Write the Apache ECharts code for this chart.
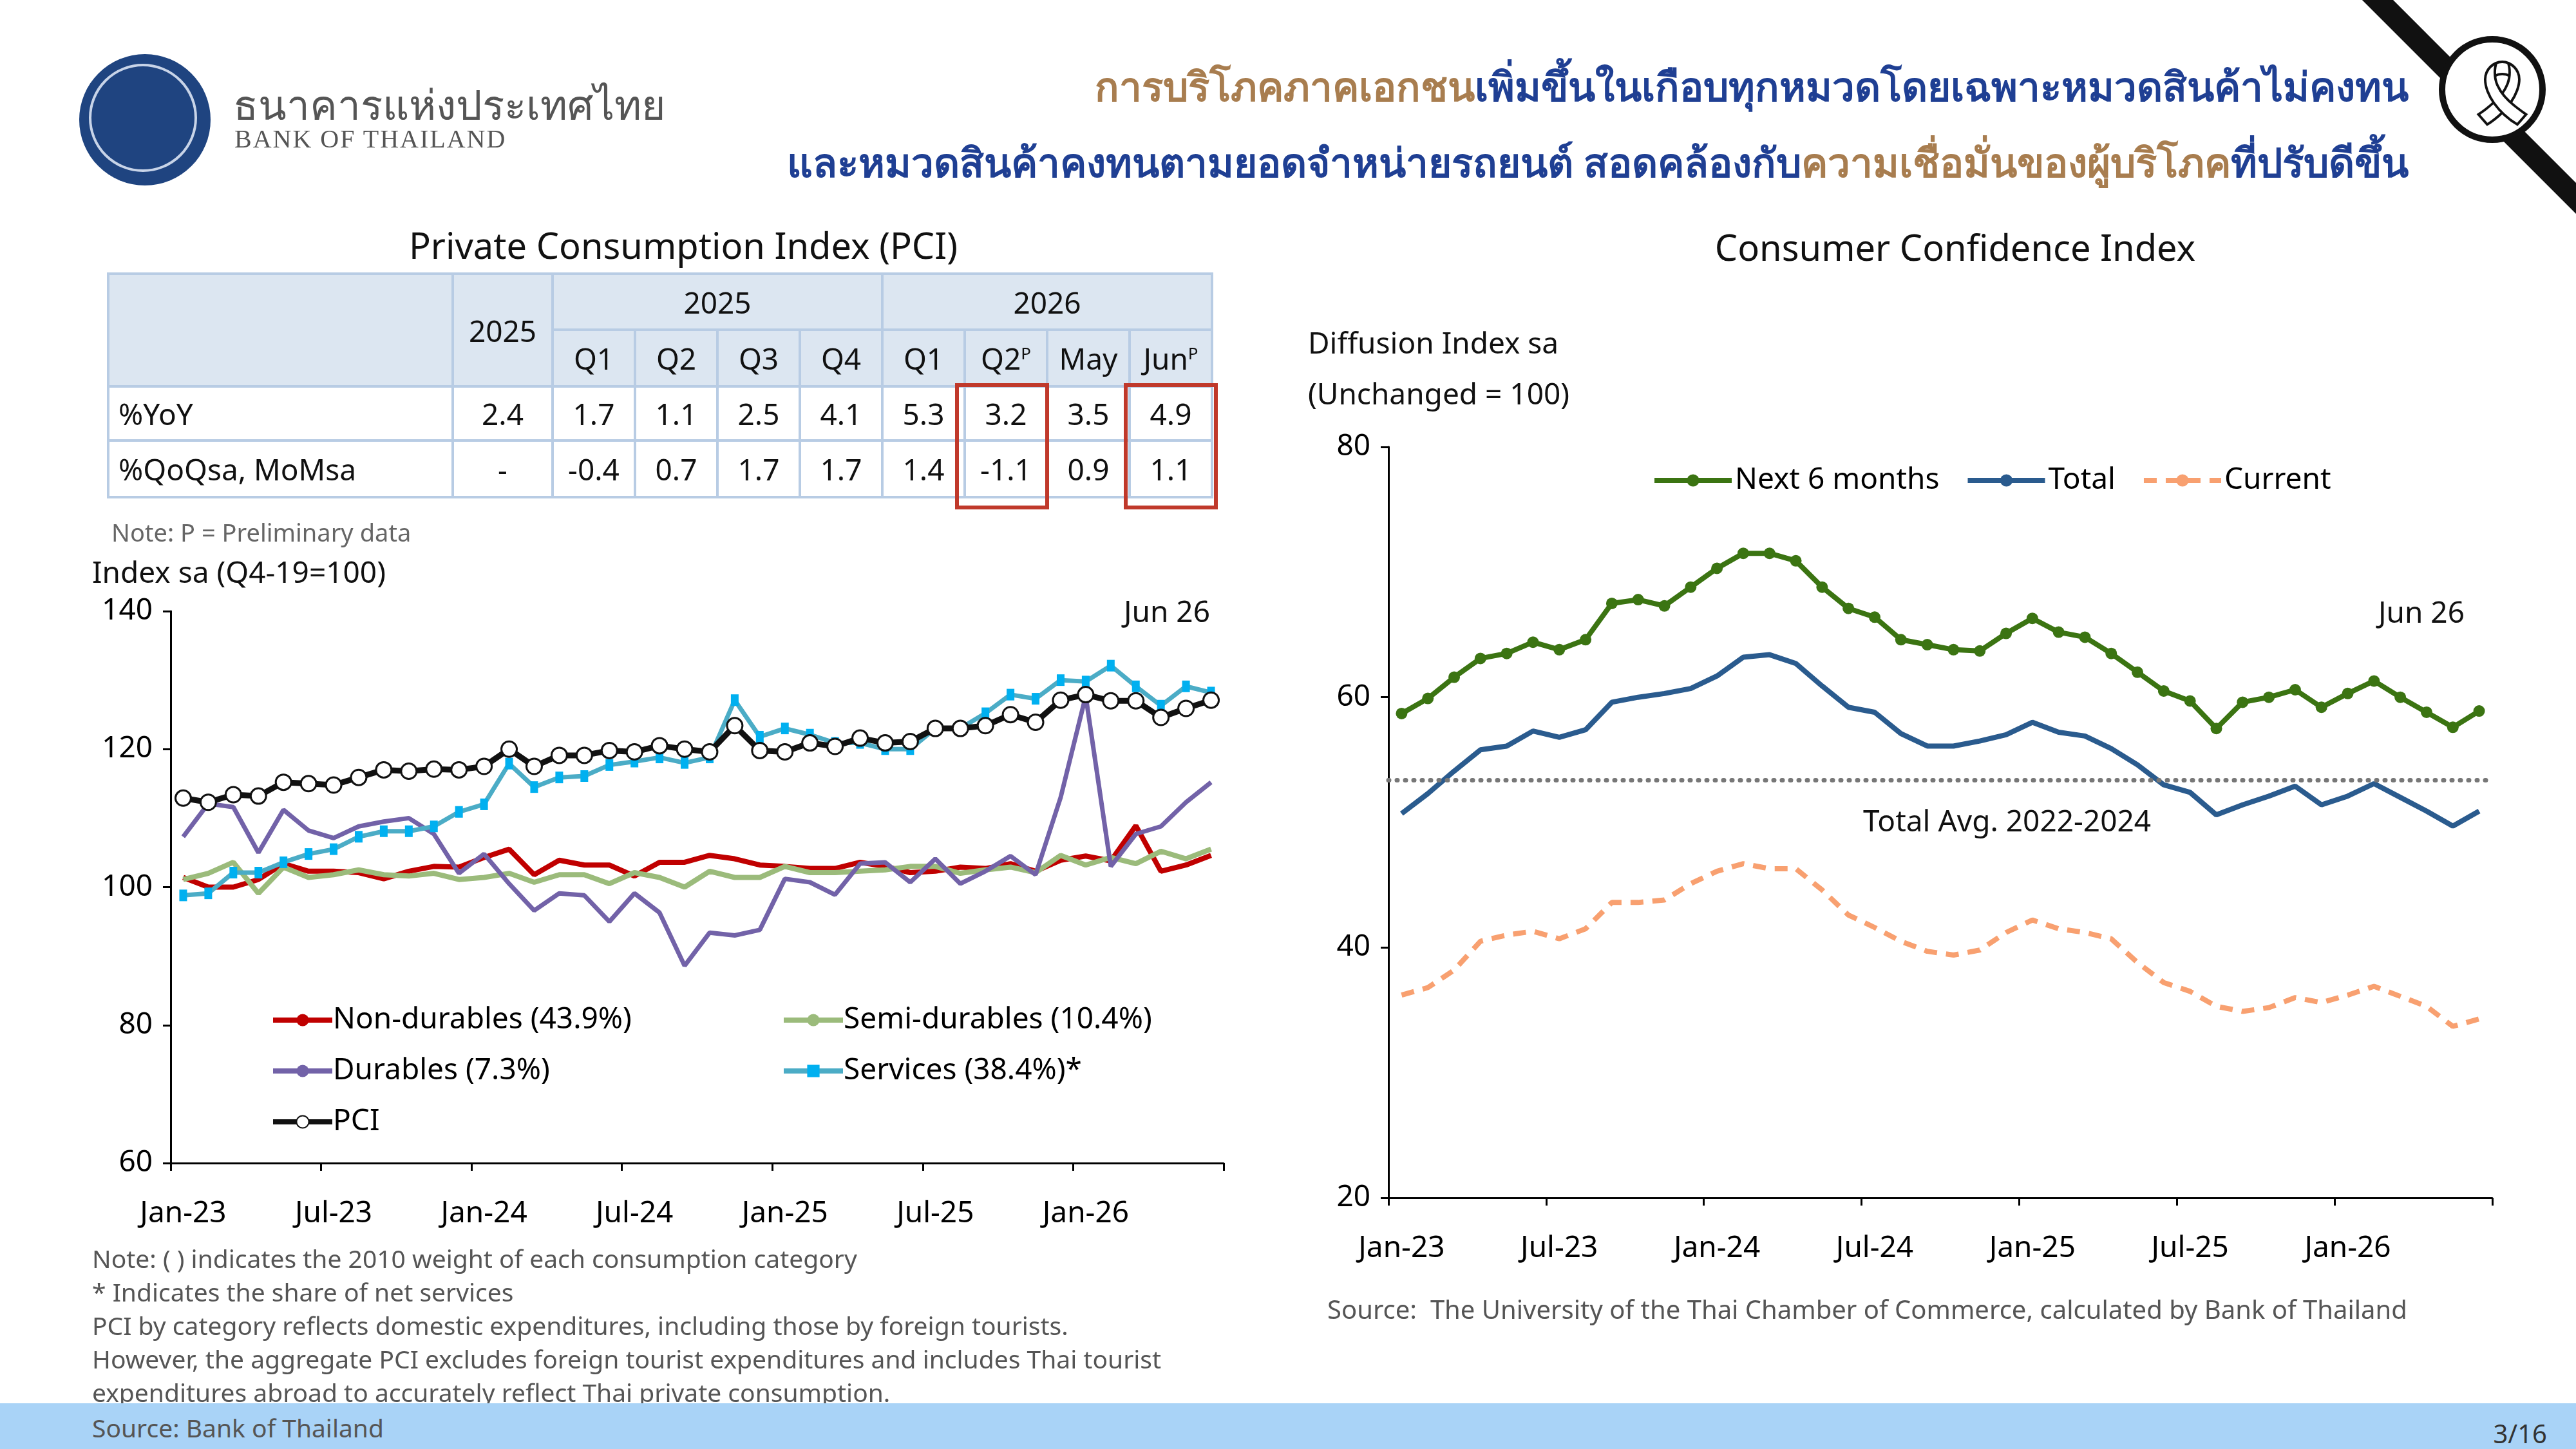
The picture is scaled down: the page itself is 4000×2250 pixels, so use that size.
<!DOCTYPE html>
<html>
<head>
<meta charset="utf-8">
<script src="https://cdn.jsdelivr.net/npm/echarts@6/dist/echarts.min.js"></script>
<style>
  body { margin: 0; width: 4000px; height: 2250px; background: #fff; position: relative; overflow: hidden;
         font-family: "Noto Sans", "DejaVu Sans", sans-serif; color: #111; }
  #chart { position: absolute; left: 0; top: 0; width: 4000px; height: 2250px; }
  .abs { position: absolute; white-space: nowrap; }
  table.pci { position: absolute; left: 166px; top: 423px; border-collapse: collapse; font-size: 46px; }
  table.pci td { border: 4px solid #b8cce4; text-align: center; padding: 0; }
  table.pci tr.h td { background: #dce6f1; }
  .red { position: absolute; border: 6px solid #c0392b; }
  .gold { color: #a87d4f; }
  .navy { color: #1f3f93; }
</style>
</head>
<body>
<div id="chart"></div>

<!-- header -->
<div class="abs" style="left:123px;top:84px;width:204px;height:204px;border-radius:50%;background:#1f4480;"></div>
<div class="abs" style="left:138px;top:99px;width:168px;height:168px;border-radius:50%;border:4px solid #c8d4e8;box-sizing:border-box;"></div>
<div class="abs" style="left:362px;top:112px;font-size:64px;color:#555;">ธนาคารแห่งประเทศไทย</div>
<div class="abs" style="left:364px;top:192px;font-size:40px;color:#555;font-family:'Liberation Serif',serif;letter-spacing:2px;">BANK OF THAILAND</div>
<div class="abs" style="right:260px;top:86px;font-size:62px;font-weight:bold;"><span class="gold">การบริโภคภาคเอกชน</span><span class="navy">เพิ่มขึ้นในเกือบทุกหมวดโดยเฉพาะหมวดสินค้าไม่คงทน</span></div>
<div class="abs" style="right:260px;top:204px;font-size:62px;font-weight:bold;"><span class="navy">และหมวดสินค้าคงทนตามยอดจำหน่ายรถยนต์ สอดคล้องกับ</span><span class="gold">ความเชื่อมั่นของผู้บริโภค</span><span class="navy">ที่ปรับดีขึ้น</span></div>
<div class="abs" style="left:3835px;top:-120px;width:34px;height:560px;background:#111;transform:rotate(-45deg);transform-origin:center;"></div>
<div class="abs" style="left:3787px;top:56px;width:166px;height:166px;border-radius:50%;background:#fff;border:10px solid #111;box-sizing:border-box;"></div>
<div class="abs" style="left:3822px;top:72px;font-size:100px;color:#111;">🎗</div>

<!-- left panel -->
<div class="abs" style="left:0;width:2122px;top:342px;text-align:center;font-size:56px;">Private Consumption Index (PCI)</div>
<table class="pci">
  <tr class="h" style="height:87px;"><td rowspan="2" style="width:531px;"></td><td rowspan="2" style="width:151px;">2025</td><td colspan="4">2025</td><td colspan="4">2026</td></tr>
  <tr class="h" style="height:88px;"><td style="width:124px;">Q1</td><td style="width:124px;">Q2</td><td style="width:124px;">Q3</td><td style="width:124px;">Q4</td><td style="width:124px;">Q1</td><td style="width:124px;">Q2<sup style="font-size:26px;">P</sup></td><td style="width:124px;">May</td><td style="width:124px;">Jun<sup style="font-size:26px;">P</sup></td></tr>
  <tr style="height:84px;"><td style="text-align:left;padding-left:14px;">%YoY</td><td>2.4</td><td>1.7</td><td>1.1</td><td>2.5</td><td>4.1</td><td>5.3</td><td>3.2</td><td>3.5</td><td>4.9</td></tr>
  <tr style="height:88px;"><td style="text-align:left;padding-left:14px;">%QoQsa, MoMsa</td><td>-</td><td>-0.4</td><td>0.7</td><td>1.7</td><td>1.7</td><td>1.4</td><td>-1.1</td><td>0.9</td><td>1.1</td></tr>
</table>
<div class="red" style="left:1483px;top:595px;width:134px;height:184px;"></div>
<div class="red" style="left:1745px;top:595px;width:134px;height:184px;"></div>
<div class="abs" style="left:173px;top:800px;font-size:38px;color:#666;">Note: P = Preliminary data</div>
<div class="abs" style="left:143px;top:856px;font-size:46px;">Index sa (Q4-19=100)</div>
<div class="abs" style="left:1745px;top:917px;font-size:46px;">Jun 26</div>
<div class="abs" style="left:143px;top:1928px;font-size:39px;color:#555;line-height:52px;">
Note: ( ) indicates the 2010 weight of each consumption category<br>
* Indicates the share of net services<br>
PCI by category reflects domestic expenditures, including those by foreign tourists.<br>
However, the aggregate PCI excludes foreign tourist expenditures and includes Thai tourist<br>
expenditures abroad to accurately reflect Thai private consumption.
</div>

<!-- right panel -->
<div class="abs" style="left:2100px;width:1872px;top:345px;text-align:center;font-size:56px;">Consumer Confidence Index</div>
<div class="abs" style="left:2031px;top:500px;font-size:46px;">Diffusion Index sa</div>
<div class="abs" style="left:2031px;top:579px;font-size:46px;">(Unchanged = 100)</div>
<div class="abs" style="left:3693px;top:918px;font-size:46px;">Jun 26</div>
<div class="abs" style="left:2893px;top:1242px;font-size:46px;">Total Avg. 2022-2024</div>
<div class="abs" style="left:2061px;top:2005px;font-size:40px;color:#555;">Source:&nbsp; The University of the Thai Chamber of Commerce, calculated by Bank of Thailand</div>

<!-- footer -->
<div class="abs" style="left:0;top:2179px;width:4000px;height:71px;background:#a9d3f7;"></div>
<div class="abs" style="left:143px;top:2190px;font-size:39px;color:#555;">Source: Bank of Thailand</div>
<div class="abs" style="right:45px;top:2198px;font-size:40px;color:#333;">3/16</div>

<script>
var months = ['Jan-23','Feb-23','Mar-23','Apr-23','May-23','Jun-23','Jul-23','Aug-23','Sep-23','Oct-23','Nov-23','Dec-23',
  'Jan-24','Feb-24','Mar-24','Apr-24','May-24','Jun-24','Jul-24','Aug-24','Sep-24','Oct-24','Nov-24','Dec-24',
  'Jan-25','Feb-25','Mar-25','Apr-25','May-25','Jun-25','Jul-25','Aug-25','Sep-25','Oct-25','Nov-25','Dec-25',
  'Jan-26','Feb-26','Mar-26','Apr-26','May-26','Jun-26'];

var nonDurables = [101.4,100,100,101.1,103.4,102.3,102.3,102.1,101.2,102.3,103,102.9,104.3,105.5,101.8,103.9,103.2,103.2,101.6,103.6,103.6,104.6,104.1,103.2,103,102.7,102.7,103.6,103,102.1,102.3,102.9,102.7,103.4,102.3,103.9,104.5,103.8,108.9,102.3,103.2,104.6];
var semiDurables = [101.1,102,103.6,99.1,102.9,101.4,101.8,102.5,101.8,101.6,102,101.1,101.4,102,100.7,101.8,101.8,100.5,102.1,101.4,100,102.3,101.4,101.4,103,102.1,102.1,102.3,102.5,103,103,102,102.5,102.9,102.1,104.6,103.2,104.3,103.4,105.2,104.1,105.5];
var durables = [107.3,112.1,111.6,105,111.2,108.2,107.1,108.8,109.5,110,107.7,102,104.8,100.5,96.6,99.1,98.8,95,99.1,96.3,88.6,93.4,93,93.8,101.2,100.7,98.9,103.4,103.6,100.7,104.1,100.5,102.3,104.5,101.8,113,127.7,103,107.7,108.8,112.3,115.2];
var services = [98.8,99.1,102.1,102.1,103.6,104.8,105.5,107.3,108.1,108.1,108.8,110.9,112,117.9,114.5,115.9,116.1,117.7,118.2,118.8,118,118.8,127.1,121.8,123,122.1,120.9,120.9,120,120,123,123,125.2,127.9,127.3,130,129.8,132.1,129.1,126.3,129.1,128.2];
var pci = [112.9,112.3,113.4,113.2,115.2,115,114.8,115.9,117,116.8,117.1,117,117.5,120,117.5,119.1,119.1,119.8,119.6,120.5,120,119.6,123.4,119.8,119.6,120.9,120.4,121.6,120.9,121.1,123,123,123.4,125,123.9,127.1,127.9,127,127,124.6,125.9,127.1];

var next6 = [58.7,59.9,61.6,63.1,63.5,64.4,63.8,64.6,67.5,67.8,67.3,68.8,70.3,71.5,71.5,70.9,68.8,67.1,66.4,64.6,64.2,63.8,63.7,65.1,66.3,65.2,64.8,63.5,62,60.5,59.7,57.5,59.6,60,60.6,59.2,60.3,61.3,60,58.8,57.6,58.9];
var total = [50.7,52.3,54.1,55.8,56.1,57.3,56.8,57.4,59.6,60,60.3,60.7,61.7,63.2,63.4,62.7,60.9,59.2,58.8,57.1,56.1,56.1,56.5,57,58,57.2,56.9,55.9,54.6,53,52.4,50.6,51.4,52.1,52.9,51.4,52.1,53.1,52,50.9,49.7,50.9];
var current = [36.2,36.8,38.2,40.5,41,41.3,40.7,41.5,43.6,43.6,43.8,45.1,46.1,46.7,46.3,46.3,44.6,42.6,41.6,40.5,39.7,39.4,39.8,41.2,42.2,41.5,41.2,40.7,38.8,37.2,36.5,35.3,34.9,35.2,36,35.6,36.2,36.9,36.1,35.3,33.7,34.3];
var totalAvg = 53.4;

var leftTicks = [60, 80, 100, 120, 140];
var rightTicks = [20, 40, 60, 80];

var F = '"Noto Sans", "DejaVu Sans", sans-serif';
var chart = echarts.init(document.getElementById('chart'));

function xAxis(gi) {
  return {
    type: 'category', gridIndex: gi, data: months, boundaryGap: true,
    axisLine: { lineStyle: { color: '#000', width: 3 } },
    axisTick: { show: true, interval: 5, length: 12, lineStyle: { color: '#000', width: 3 } },
    axisLabel: { interval: 5, color: '#000', fontSize: 46, fontFamily: F, margin: 56 }
  };
}
function yAxis(gi, ticks) {
  return {
    type: 'value', gridIndex: gi, min: ticks[0], max: ticks[ticks.length - 1], interval: ticks[1] - ticks[0],
    splitLine: { show: false },
    axisLine: { show: true, lineStyle: { color: '#000', width: 3 } },
    axisTick: { show: true, length: 12, lineStyle: { color: '#000', width: 3 } },
    axisLabel: { color: '#000', fontSize: 46, fontFamily: F, margin: 28 }
  };
}
function line(name, data, color, width, gi, extra) {
  return Object.assign({
    name: name, type: 'line', data: data, xAxisIndex: gi, yAxisIndex: gi,
    showSymbol: false, symbol: 'none', smooth: false,
    lineStyle: { color: color, width: width }, itemStyle: { color: color }, z: 3
  }, extra || {});
}
function leg(name, left, top) {
  return { data: [name], left: left, top: top, itemWidth: 92, itemHeight: 24, itemGap: 0,
    lineStyle: { width: 8 },
    textStyle: { fontSize: 46, fontFamily: F, color: '#000', padding: [0, 0, 0, -4] } };
}

chart.setOption({
  animation: false,
  grid: [
    { left: 265, top: 949, width: 1635, height: 857 },
    { left: 2156, top: 694, width: 1714, height: 1166 }
  ],
  xAxis: [xAxis(0), xAxis(1)],
  yAxis: [yAxis(0, leftTicks), yAxis(1, rightTicks)],
  legend: [
    leg('Non-durables (43.9%)', 415, 1556),
    leg('Semi-durables (10.4%)', 1208, 1556),
    leg('Durables (7.3%)', 415, 1635),
    leg('Services (38.4%)*', 1208, 1635),
    leg('PCI', 415, 1714),
    { data: ['Next 6 months', 'Total', 'Current'], left: 2560, top: 718, itemWidth: 120, itemHeight: 24, itemGap: 40,
      lineStyle: { width: 8 },
      textStyle: { fontSize: 46, fontFamily: F, color: '#000' } }
  ],
  series: [
    line('Non-durables (43.9%)', nonDurables, '#c00000', 8, 0),
    line('Semi-durables (10.4%)', semiDurables, '#9bbb7b', 8, 0),
    line('Durables (7.3%)', durables, '#7262a8', 7, 0),
    line('Services (38.4%)*', services, '#4bacc6', 7, 0,
      { showSymbol: true, symbol: 'rect', symbolSize: [12, 18], itemStyle: { color: '#00b0f0' } }),
    line('PCI', pci, '#111', 9, 0,
      { showSymbol: true, symbol: 'circle', symbolSize: 24, itemStyle: { color: '#fff', borderColor: '#111', borderWidth: 3 }, z: 5 }),
    line('Next 6 months', next6, '#3b7412', 8, 1,
      { showSymbol: true, symbol: 'circle', symbolSize: 18 }),
    line('Total', total, '#2a5b8e', 8, 1,
      { markLine: { silent: true, symbol: 'none', label: { show: false },
        lineStyle: { color: '#777', type: [1, 12], width: 7, cap: 'round' }, data: [{ yAxis: totalAvg }] } }),
    line('Current', current, '#f8a070', 8, 1, { lineStyle: { color: '#f8a070', width: 8, type: [20, 14] } })
  ]
});
</script>
</body>
</html>
